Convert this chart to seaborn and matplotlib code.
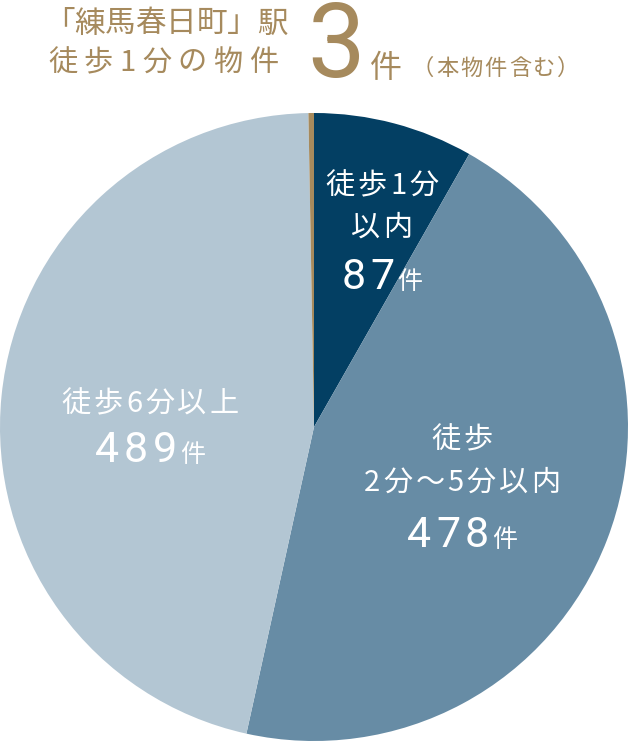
import matplotlib
matplotlib.use("Agg")
import matplotlib.pyplot as plt
import seaborn as sns

# slice data, clockwise from 12 o'clock
categories = ["徒歩1分\n以内", "徒歩\n2分〜5分以内", "徒歩6分以上", "徒歩1分の物件"]
counts = [87, 478, 489, 3]
slice_colors = ["#033f63", "#678ca5", "#b3c6d3", "#a68a5d"]

title_lines = ["「練馬春日町」駅", "徒歩1分の物件"]
title_note = "（本物件含む）"
unit = "件"

sns.set_theme(style="white")
plt.rcParams["font.family"] = ["Noto Sans CJK JP", "DejaVu Sans"]
num_font = ["Roboto", "DejaVu Sans"]

W, H = 628, 742
fig = plt.figure(figsize=(W / 100, H / 100), dpi=100)
fig.patch.set_facecolor("white")
rend = fig.canvas.get_renderer()


def spaced(x, y, s, size, gap=0, align="left", measure=False, **kw):
    # draw a string char by char (pixel coords) with extra letter spacing
    texts = []
    cx = x
    for ch in s:
        t = fig.text(cx / W, 1 - y / H, ch, size=size, ha="left", **kw)
        w = t.get_window_extent(rend).width
        texts.append(t)
        cx += w + gap
    total = cx - gap - x
    if measure:
        for t in texts:
            t.remove()
        return total
    shift = {"left": 0, "center": total / 2, "right": total}[align]
    if shift:
        for t in texts:
            px, py = t.get_position()
            t.set_x(px - shift / W)
    return x - shift + total


ax = fig.add_axes([0, 1 / H, 1, W / H])
ax.pie(counts, colors=slice_colors, startangle=90, counterclock=False,
       radius=1, wedgeprops=dict(linewidth=0))
ax.set_xlim(-1, 1)
ax.set_ylim(-1, 1)
ax.set_aspect("equal")
ax.axis("off")

gold = "#a68a5d"
# header
spaced(44, 24, title_lines[0], 22, gap=0, color=gold, va="center")
spaced(48, 63, title_lines[1], 21, gap=6.5, color=gold, va="center")
end = spaced(307, 77, str(counts[3]), 74, color=gold, va="baseline",
             family=num_font)
end = spaced(end + 5, 77, unit, 23, color=gold, va="baseline")
spaced(end + 10, 75, title_note, 16, gap=2, color=gold, va="baseline")

# slice labels: (x center, first line y, line step, number baseline y)
label_pos = [
    (382, 186, 42, 289),
    (462, 440, 43, 547),
    (150, 404, 0, 462),
]
unit_size = 18
for i, (cx, y0, step, base) in enumerate(label_pos):
    for j, line in enumerate(categories[i].split("\n")):
        spaced(cx, y0 + j * step, line, 21, gap=3, align="center",
               color="white", va="center")
    # number + unit, centred as one group
    nw = spaced(0, 0, str(counts[i]), 31, gap=5, measure=True,
                va="baseline", family=num_font)
    uw = spaced(0, 0, unit, unit_size, measure=True, va="baseline")
    start = cx - (nw + 3 + uw) / 2
    end = spaced(start, base, str(counts[i]), 31, gap=5, color="white",
                 va="baseline", family=num_font)
    spaced(end + 3, base, unit, unit_size, color="white", va="baseline")

fig.savefig("out.png", dpi=100, facecolor="white")
